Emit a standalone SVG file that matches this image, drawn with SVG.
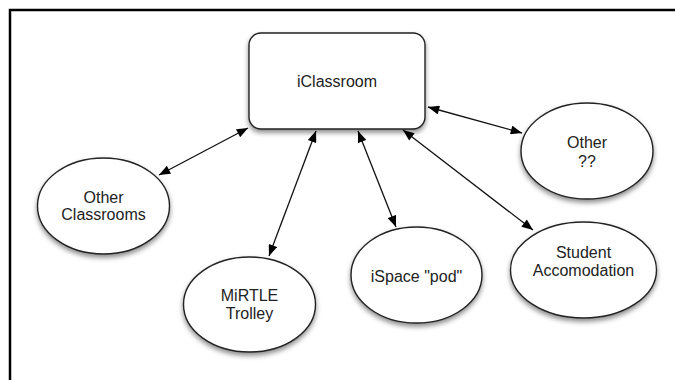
<svg xmlns="http://www.w3.org/2000/svg" width="675" height="380" viewBox="0 0 675 380">
<defs>
<filter id="sh" x="-20%" y="-20%" width="140%" height="150%">
<feDropShadow dx="0" dy="3" stdDeviation="2.5" flood-color="#000" flood-opacity="0.45"/>
</filter>
<marker id="ah" viewBox="0 0 10 8" refX="10" refY="4" markerWidth="12" markerHeight="9" markerUnits="userSpaceOnUse" orient="auto-start-reverse">
<path d="M0,0 L10,4 L0,8 z" fill="#000"/>
</marker>
<style>
.node{fill:#fff;stroke:#222;stroke-width:1.4;filter:url(#sh)}
.lbl{font-family:"Liberation Sans",Arial,sans-serif;font-size:16px;fill:#222;text-anchor:middle;dominant-baseline:central}
.con{stroke:#111;stroke-width:1.3;fill:none;marker-start:url(#ah);marker-end:url(#ah)}
</style>
</defs>
<rect width="675" height="380" fill="#fff"/>
<path d="M10,390 L10,10 L690,10" fill="none" stroke="#000" stroke-width="2.5"/>
<g id="connectors">
<line class="con" x1="248" y1="128" x2="159" y2="175"/>
<line class="con" x1="316" y1="131" x2="269" y2="256"/>
<line class="con" x1="358" y1="131" x2="396" y2="227"/>
<line class="con" x1="403" y1="130" x2="533" y2="230"/>
<line class="con" x1="428" y1="107" x2="522" y2="133"/>
</g>
<g id="iClassroom">
<rect class="node" x="249" y="33" width="176" height="96" rx="12" ry="12"/>
<text class="lbl" x="337" y="81">iClassroom</text>
</g>
<g id="otherClassrooms">
<ellipse class="node" cx="103.5" cy="206" rx="66" ry="48"/>
<text class="lbl" x="103.5" y="197">Other</text>
<text class="lbl" x="103.5" y="214">Classrooms</text>
</g>
<g id="mirtle">
<ellipse class="node" cx="249.5" cy="304.5" rx="66" ry="47.5"/>
<text class="lbl" x="249.5" y="295.5">MiRTLE</text>
<text class="lbl" x="249.5" y="313.5">Trolley</text>
</g>
<g id="ispace">
<ellipse class="node" cx="416.5" cy="275" rx="65.5" ry="48"/>
<text class="lbl" x="416.5" y="276">iSpace "pod"</text>
</g>
<g id="student">
<ellipse class="node" cx="583.5" cy="270" rx="73" ry="48"/>
<text class="lbl" x="583.5" y="252.5">Student</text>
<text class="lbl" x="583.5" y="270">Accomodation</text>
</g>
<g id="other">
<ellipse class="node" cx="587" cy="151" rx="66" ry="48"/>
<text class="lbl" x="587" y="142">Other</text>
<text class="lbl" x="587" y="161">??</text>
</g>
</svg>
